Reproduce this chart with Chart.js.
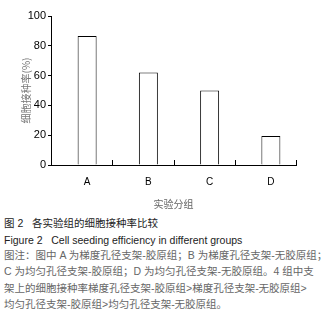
<!DOCTYPE html>
<html>
<head>
<meta charset="utf-8">
<script src="https://cdn.jsdelivr.net/npm/chart.js@4/dist/chart.umd.min.js"></script>
<style>
    body { margin: 0; background: #fff; width: 328px; height: 321px; overflow: hidden; position: relative; }
    #wrap { position: absolute; left: 0; top: 0; width: 328px; height: 210px; }
    .cap { position: absolute; left: 4px; white-space: nowrap; font-family: "Liberation Sans", "Noto Sans CJK SC", sans-serif; font-size: 10.5px; line-height: 16.3px; }
    .head { color: #222; }
    .note { color: #666; }
</style>
</head>
<body>
<div id="wrap"><canvas id="chart"></canvas></div>
<div class="cap head" style="top:215px">图 2&nbsp;&nbsp;&nbsp;各实验组的细胞接种率比较</div>
<div class="cap head" style="top:232px">Figure 2&nbsp;&nbsp;&nbsp;Cell seeding efficiency in different groups</div>
<div class="cap note" style="top:247px">图注：图中 A 为梯度孔径支架-胶原组；B 为梯度孔径支架-无胶原组；<br>C 为均匀孔径支架-胶原组；D 为均匀孔径支架-无胶原组。4 组中支<br>架上的细胞接种率梯度孔径支架-胶原组&gt;梯度孔径支架-无胶原组&gt;<br>均匀孔径支架-胶原组&gt;均匀孔径支架-无胶原组。</div>
<script>
const groups = ['A', 'B', 'C', 'D'];
const seedingRate = [86.5, 62, 50, 19.5];
const yTicks = [0, 20, 40, 60, 80, 100];

// bars and labels sit a little right of the middle of each group in the original
const shiftBars = {
    id: 'shiftBars',
    afterLayout(chart) {
        const x = chart.scales.x;
        x._startPixel += 5.5;
        x._endPixel += 5.5;
    }
};

// small upward tick marks on the x axis at the right edge of each group
const innerTicks = {
    id: 'innerTicks',
    afterDraw(chart) {
        const x = chart.scales.x;
        const ctx = chart.ctx;
        const step = x.width / groups.length;
        ctx.save();
        ctx.strokeStyle = '#000';
        ctx.lineWidth = 1;
        groups.forEach((g, i) => {
            const px = Math.round(x.left + step * (i + 1)) + 0.5;
            ctx.beginPath();
            ctx.moveTo(px, x.top);
            ctx.lineTo(px, x.top - 5);
            ctx.stroke();
        });
        ctx.restore();
    }
};

new Chart(document.getElementById('chart'), {
    type: 'bar',
    data: {
        labels: groups,
        datasets: [{
            data: seedingRate,
            backgroundColor: '#fff',
            borderColor: '#000',
            borderWidth: 1,
            borderSkipped: 'bottom',
            categoryPercentage: 1,
            barPercentage: 0.31
        }]
    },
    options: {
        responsive: true,
        maintainAspectRatio: false,
        animation: false,
        layout: {padding: {top: 16, right: 32, left: 0, bottom: 0}},
        plugins: {legend: {display: false}, tooltip: {enabled: false}},
        scales: {
            y: {
                min: 0,
                max: 100,
                afterBuildTicks: axis => { axis.ticks = yTicks.map(v => ({value: v})); },
                afterFit: axis => { axis.width = 51; },
                border: {color: '#000', width: 1},
                grid: {drawOnChartArea: false, drawTicks: true, tickLength: 3, color: '#000'},
                ticks: {color: '#000', padding: 2, font: {family: 'Liberation Sans', size: 11}},
                title: {
                    display: true,
                    text: '细胞接种率(%)',
                    color: '#777',
                    font: {family: 'Noto Sans CJK SC', size: 10},
                    padding: {top: 20, bottom: 0}
                }
            },
            x: {
                border: {color: '#000', width: 1},
                grid: {display: false},
                ticks: {color: '#000', padding: 3, font: {family: 'Liberation Sans', size: 10}},
                title: {
                    display: true,
                    text: '实验分组',
                    color: '#666',
                    font: {family: 'Noto Sans CJK SC', size: 10},
                    padding: {top: 7, bottom: 0}
                }
            }
        }
    },
    plugins: [shiftBars, innerTicks]
});
</script>
</body>
</html>
